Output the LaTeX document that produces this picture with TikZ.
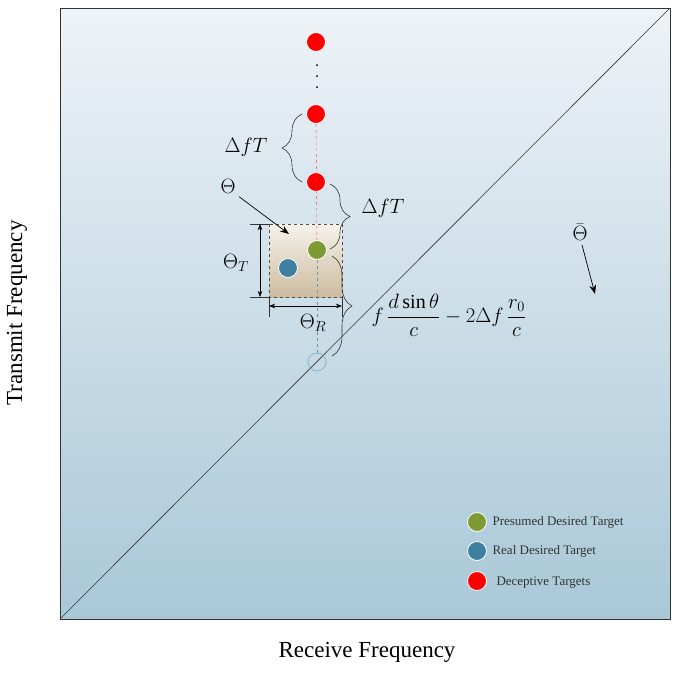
\documentclass[tikz,border=0pt]{standalone}
\usepackage{fontspec}
\setmainfont{Liberation Serif}
\usetikzlibrary{decorations.pathreplacing,arrows.meta}
\definecolor{red1}{HTML}{FF0000}
\definecolor{grn}{HTML}{7E9A35}
\definecolor{blu}{HTML}{3F7F9F}
\definecolor{topc}{HTML}{EEF3F7}
\definecolor{botc}{HTML}{A9C8D8}
\begin{document}
\begin{tikzpicture}[x=1pt,y=-1pt,
  dot/.style={circle,draw=white,line width=0.8pt,minimum size=19pt,inner sep=0pt},
  br/.style={decorate,decoration={brace,amplitude=20pt},line width=0.6pt},
  lab/.style={font=\fontsize{20}{20}\selectfont},
  leg/.style={font=\fontsize{13}{13}\selectfont,anchor=west,text=black!80}]
\useasboundingbox (0,0) rectangle (680,673);
\shade[top color=topc,bottom color=botc] (60,8) rectangle (670,619);
\draw[line width=0.8pt,black!80] (60,8) rectangle (670,619);
\draw[black!80,line width=0.6pt] (60,619) -- (670,8);
% box
\shade[top color={rgb,255:red,246;green,242;blue,236},bottom color={rgb,255:red,205;green,187;blue,159}] (269,224) rectangle (342,297);
\draw[dashed,black!70,line width=0.7pt] (269,224) rectangle (342,297);
% dots
\node[dot,fill=red1] (r1) at (316,42) {};
\node[dot,fill=red1] (r2) at (316,114) {};
\node[dot,fill=red1] (r3) at (316,182) {};
\node[dot,fill=grn] (g) at (317,250) {};
\node[dot,fill=blu] (b) at (288,268) {};
\node[circle,draw=blu!80,minimum size=18pt,inner sep=0pt] (h) at (317,362) {};
\draw[red1!70,dashed] (r2) -- (g);
\draw[blu!80,dashed] (g) -- (h);
\foreach \y in {65,76,87} \fill (317,\y) circle (1pt);
% Theta_T
\coordinate (t1) at (260,224); \coordinate (t2) at (260,297);
\draw[black!80] (250,224) -- (269,224) (250,297) -- (269,297);
\draw[{Stealth}-{Stealth},line width=0.7pt] (t1) -- (t2);
\node[lab] (tt) at (236,263) {$\Theta_T$};
% Theta_R
\draw[black!80] (269,297) -- (269,317) (342,297) -- (342,317);
\coordinate (s1) at (269,306); \coordinate (s2) at (342,306);
\draw[{Stealth}-{Stealth},line width=0.7pt] (s1) -- (s2);
\node[lab] (tr) at (313,323) {$\Theta_R$};
% Theta
\node[lab] (th) at (228,186) {$\Theta$};
\coordinate (tha) at (289,234);
\draw[-{Stealth[length=9pt]},line width=0.7pt] (th.south east) -- (tha);
% Theta bar
\node[lab] (tb) at (580,232) {$\bar{\Theta}$};
\coordinate (tba) at (595,294);
\draw[-{Stealth[length=9pt]},line width=0.7pt] (tb.south) ++(2,1) -- (tba);
% braces
\draw[br,black!80] (302,182) -- (302,114);
\node[lab] at (246,147) {$\Delta fT$};
\draw[br,black!80] (330,184) -- (330,249);
\node[lab] at (383,208) {$\Delta fT$};
\draw[br,black!80] (332,256) -- (332,356);
\node[lab,anchor=west] at (368,315) {$f\,\displaystyle\frac{d\sin\theta}{c}-2\Delta f\,\frac{r_0}{c}$};
% legend
\node[dot,fill=grn] (l1) at (477,522) {};
\node[leg] at (489,522) {Presumed Desired Target};
\node[dot,fill=blu] (l2) at (477,551) {};
\node[leg] at (489,551) {Real Desired Target};
\node[dot,fill=red1] (l3) at (477,581) {};
\node[leg] at (493,583) {Deceptive Targets};
% axes
\node[font=\fontsize{23}{23}\selectfont] at (367,652) {Receive Frequency};
\node[font=\fontsize{23}{23}\selectfont,rotate=90] at (17,313) {Transmit Frequency};
\end{tikzpicture}
\end{document}
